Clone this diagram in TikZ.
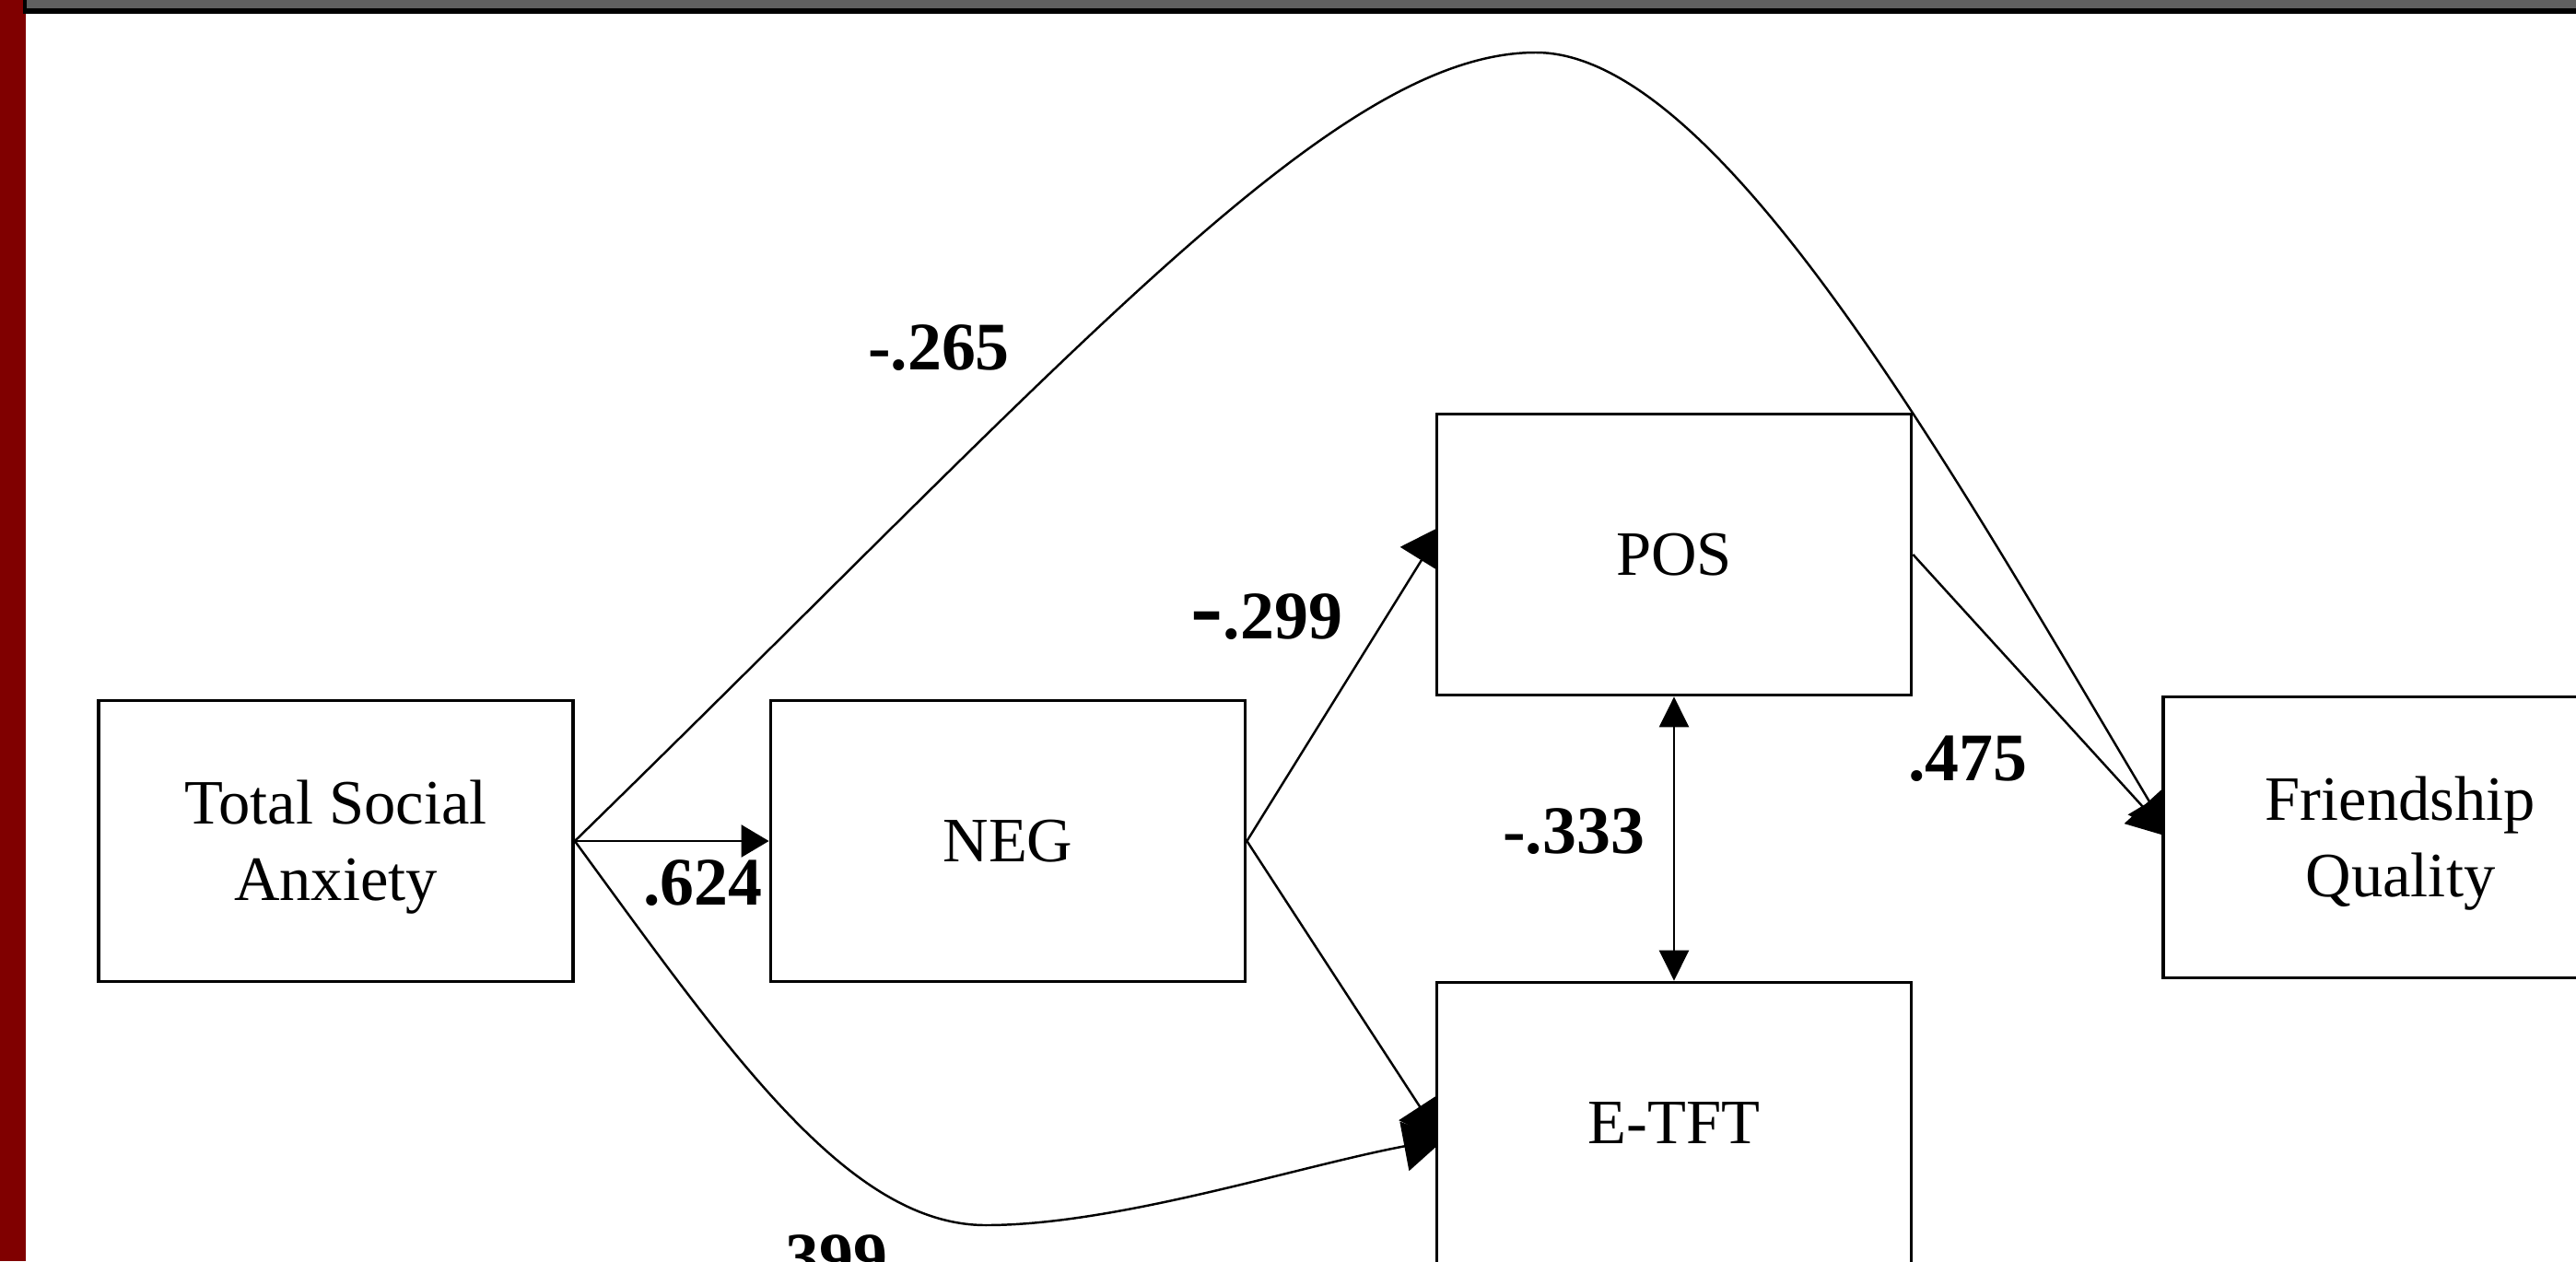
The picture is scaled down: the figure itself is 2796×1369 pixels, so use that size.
\documentclass[tikz,border=0pt]{standalone}
\usepackage{fontspec}
\setmainfont{Liberation Serif}
\usetikzlibrary{arrows.meta}
\pgfdeclarelayer{back}
\pgfdeclarelayer{bg}
\pgfsetlayers{back,bg,main}
\definecolor{barred}{RGB}{128,0,0}
\definecolor{bargrey}{RGB}{96,96,96}
\newcommand{\topstrut}{\rule{0pt}{17.5pt}}
\begin{document}
\begin{tikzpicture}[x=0.01cm,y=-0.01cm,
  box/.style={draw=black, line width=1pt, fill=white, minimum width=5.15cm, minimum height=3.05cm, inner sep=0pt, align=center, font=\fontsize{19.5}{23.6}\selectfont},
  lbl/.style={inner sep=0pt, font=\bfseries\fontsize{21}{21}\selectfont},
  conn/.style={line width=0.7pt, draw=black},
  bighead/.style={-{Triangle[length=0.45cm,width=0.54cm]}},
  smallhead/.style={-{Triangle[length=0.3cm,width=0.35cm]}},
  dblhead/.style={{Triangle[length=0.33cm,width=0.32cm]}-{Triangle[length=0.33cm,width=0.32cm]}}
]
\useasboundingbox (0,0) rectangle (2796,1369);
\begin{pgfonlayer}{back}
\fill[white] (0,0) rectangle (2796,1369);
\end{pgfonlayer}
\fill[barred] (0,0) rectangle (28,1369);
\fill[black] (25,0) rectangle (2796,15);
\fill[bargrey] (29,0) rectangle (2796,9);

\node[box] (tsa) at (364.5,913) {\topstrut Total Social\\Anxiety};
\node[box] (neg) at (1094,913) {NEG};
\node[box] (pos) at (1817,602) {POS};
\node[box] (etft) at (1817,1219) {E-TFT};
\node[box] (fq) at (2605.5,909) {\topstrut Friendship\\Quality};

\coordinate (peak) at (1667,57);
\coordinate (low) at (1070,1330);

\begin{pgfonlayer}{bg}
\draw[conn,smallhead] (tsa.east) -- (neg.west);
\draw[conn,bighead] (tsa.east) .. controls (1170,380) and (1450,57) .. (peak)
  .. controls (1865,57) and (2117,508) .. ([xshift=0.1cm]fq.west);
\draw[conn,bighead] (tsa.east) .. controls (790,1140) and (920,1330) .. (low)
  .. controls (1213,1330) and (1409,1266) .. ([shift={(0.11cm,-0.17cm)}]etft.west);
\draw[conn,bighead] (neg.east) -- ([shift={(0.09cm,0.32cm)}]pos.west);
\draw[conn,bighead] (neg.east) -- ([shift={(0.08cm,-0.2cm)}]etft.west);
\draw[conn,bighead] (pos.east) -- ([xshift=0.1cm]fq.west);
\draw[conn,dblhead] (pos.south) -- (etft.north);
\end{pgfonlayer}

\node[lbl] (l624) at (763,959) {.624};
\node[lbl] (l265) at (1019,378) {-.265};
\node[lbl] (l299) at (1375,670) {{\fontsize{30}{30}\selectfont -}.299};
\node[lbl] (l475) at (2136,824) {.475};
\node[lbl] (l333) at (1708,903) {-.333};
\node[lbl] (l399) at (899,1366) {.399};
\end{tikzpicture}
\end{document}
